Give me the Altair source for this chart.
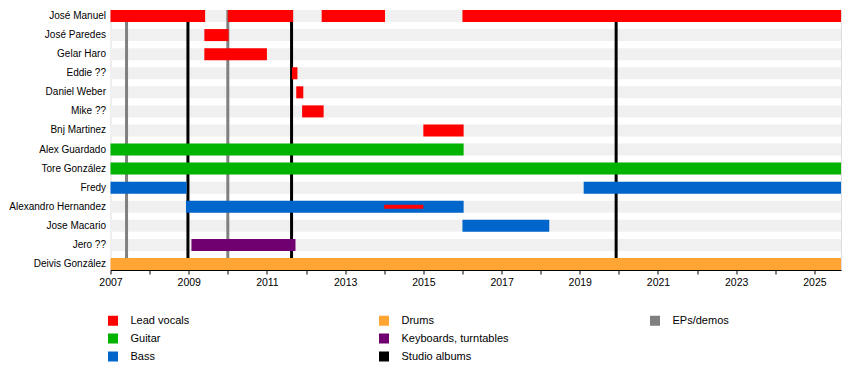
import altair as alt
import pandas as pd

# Members (top to bottom)
members = ["José Manuel", "José Paredes", "Gelar Haro", "Eddie ??", "Daniel Weber",
           "Mike ??", "Bnj Martinez", "Alex Guardado", "Tore González", "Fredy",
           "Alexandro Hernandez", "Jose Macario", "Jero ??", "Deivis González"]

START_YEAR = 2007.0
END_YEAR = 2025.68

# Membership periods: member, role, start, end
period_member = ["José Manuel", "José Manuel", "José Manuel", "José Manuel",
                 "José Paredes", "Gelar Haro", "Eddie ??", "Daniel Weber", "Mike ??",
                 "Bnj Martinez", "Alex Guardado", "Tore González", "Fredy", "Fredy",
                 "Alexandro Hernandez", "Jose Macario", "Jero ??", "Deivis González"]
period_role = ["Lead vocals", "Lead vocals", "Lead vocals", "Lead vocals",
               "Lead vocals", "Lead vocals", "Lead vocals", "Lead vocals", "Lead vocals",
               "Lead vocals", "Guitar", "Guitar", "Bass", "Bass",
               "Bass", "Bass", "Keyboards, turntables", "Drums"]
period_start = [2007.0, 2010.0, 2012.4, 2016.0,
                2009.4, 2009.4, 2011.64, 2011.75, 2011.9,
                2015.0, 2007.0, 2007.0, 2007.0, 2019.1,
                2008.93, 2016.0, 2009.07, 2007.0]
period_end = [2009.42, 2011.67, 2014.02, END_YEAR,
              2010.02, 2011.0, 2011.78, 2011.93, 2012.45,
              2016.03, 2016.03, END_YEAR, 2008.95, END_YEAR,
              2016.03, 2018.22, 2011.73, END_YEAR]

# Secondary role (thin bar)
thin_member = ["Alexandro Hernandez"]
thin_role = ["Lead vocals"]
thin_start = [2014.0]
thin_end = [2015.0]

# Releases
studio_albums = [2008.98, 2011.63, 2019.93]
eps_demos = [2007.41, 2010.0]

# Legend (column-major order of the reference, filled row-major with a blank slot)
legend_domain = ["Lead vocals", "Drums", "EPs/demos",
                 "Guitar", "Keyboards, turntables", " ",
                 "Bass", "Studio albums"]
legend_colors = ["#ff0000", "#ffa533", "#808080",
                 "#00b300", "#700070", "#ffffff",
                 "#0066cc", "#000000"]

years = list(range(2007, 2026))

FONT = "Liberation Sans"

periods = pd.DataFrame({"member": period_member, "role": period_role,
                        "start": period_start, "end": period_end})
thin = pd.DataFrame({"member": thin_member, "role": thin_role,
                     "start": thin_start, "end": thin_end})
background = pd.DataFrame({"member": members,
                           "start": [START_YEAR] * len(members),
                           "end": [END_YEAR] * len(members)})
studio_df = pd.DataFrame({"year": studio_albums})
eps_df = pd.DataFrame({"year": eps_demos})

x_scale = alt.Scale(domain=[START_YEAR, END_YEAR], nice=False, zero=False)
y_scale = alt.Scale(domain=members, paddingInner=0.37, paddingOuter=0)
color_scale = alt.Scale(domain=legend_domain, range=legend_colors)

x_axis = alt.Axis(values=years, format="d", title=None,
                  labelExpr="datum.value % 2 == 1 ? datum.label : ''",
                  tickSize=4, tickColor="black", domainColor="black",
                  labelFont=FONT, labelFontSize=10.5, labelColor="black",
                  labelPadding=3, grid=False, labelFlush=False)
y_axis = alt.Axis(title=None, ticks=False, domain=False, labelFont=FONT,
                  labelFontSize=10, labelColor="black", labelPadding=5,
                  labelLimit=200)

bg = alt.Chart(background).mark_bar(color="#f0f0f0").encode(
    x=alt.X("start:Q", scale=x_scale, axis=x_axis),
    x2="end:Q",
    y=alt.Y("member:N", scale=y_scale, axis=y_axis, sort=members),
)

eps_rules = alt.Chart(eps_df).mark_rule(color="#808080", strokeWidth=3).encode(
    x=alt.X("year:Q", scale=x_scale),
)
studio_rules = alt.Chart(studio_df).mark_rule(color="black", strokeWidth=3).encode(
    x=alt.X("year:Q", scale=x_scale),
)

bars = alt.Chart(periods).mark_bar().encode(
    x=alt.X("start:Q", scale=x_scale),
    x2="end:Q",
    y=alt.Y("member:N", scale=y_scale, sort=members),
    color=alt.Color("role:N", scale=color_scale, legend=alt.Legend(
        title=None, orient="none", legendX=-3, legendY=305,
        direction="horizontal", columns=3, gridAlign="all",
        symbolType="square", symbolSize=100, symbolStrokeWidth=0,
        labelFont=FONT, labelFontSize=11, labelColor="black",
        labelOffset=12, rowPadding=6, columnPadding=140, padding=0,
        labelLimit=300)),
)

thin_bars = alt.Chart(thin).mark_bar(height=4).encode(
    x=alt.X("start:Q", scale=x_scale),
    x2="end:Q",
    y=alt.Y("member:N", scale=y_scale, sort=members),
    color=alt.Color("role:N", scale=color_scale),
)

chart = alt.layer(bg, eps_rules, studio_rules, bars, thin_bars).properties(
    width=730.5, height=260,
    autosize=alt.AutoSizeParams(type="none"),
    padding={"left": 102.5, "top": 2, "right": 1, "bottom": 96},
).configure_view(stroke=None).configure(background="white")

chart.save("out.html", embed_options={"renderer": "svg", "actions": False})
